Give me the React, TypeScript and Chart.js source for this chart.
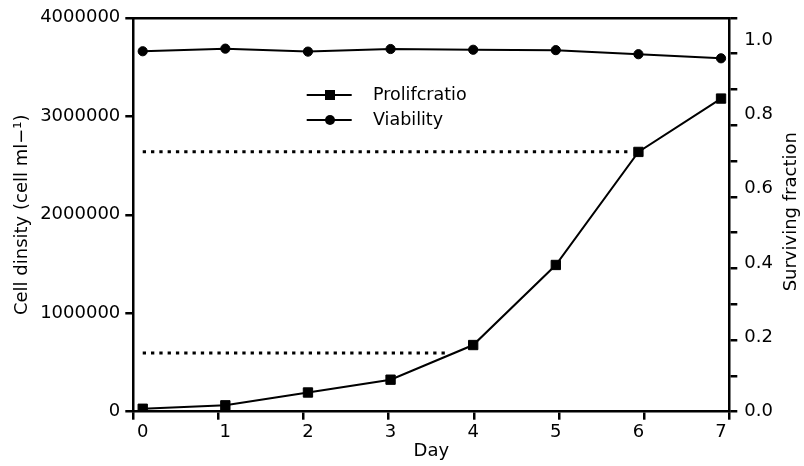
import React, { useEffect, useRef } from "react";
import { Chart, registerables } from "chart.js";

Chart.register(...registerables);

// ---- data ----
const days = [0, 1, 2, 3, 4, 5, 6, 7];
const proliferation = [30000, 65000, 195000, 325000, 677000, 1490000, 2638000, 3180000];
const viability = [0.97, 0.977, 0.969, 0.976, 0.974, 0.973, 0.962, 0.951];
const refLevels = [2640000, 595000];
const refStarts = [0, 0];
const refEnds = [5.9, 3.7];
const leftTicks = [0, 1000000, 2000000, 3000000, 4000000];
const rightTicks = [0, 0.2, 0.4, 0.6, 0.8, 1.0];
const rightMinorTicks = [0, 0.1, 0.2, 0.3, 0.4, 0.5, 0.6, 0.7, 0.8, 0.9, 1.0, 1.1];
const seriesNames = ["Prolifcratio", "Viability"];
const xTitle = "Day";
const yTitle = "Cell dinsity (cell ml\u2212\u00B9)";
const y2Title = "Surviving fraction";

const FONT = "'DejaVu Sans'";
const BLACK = "#000";

const legendPlugin = {
  id: "inlineLegend",
  afterDatasetsDraw(chart: any) {
    const ctx = chart.ctx;
    const items = chart.data.datasets.filter((d: any) => d.label);
    items.forEach((d: any, i: number) => {
      const y = 95 + i * 25;
      const x0 = 306.7;
      const x1 = 351.7;
      const cx = 330;
      ctx.save();
      ctx.strokeStyle = BLACK;
      ctx.fillStyle = BLACK;
      ctx.lineWidth = 2;
      ctx.beginPath();
      ctx.moveTo(x0, y);
      ctx.lineTo(x1, y);
      ctx.stroke();
      if (d.pointStyle === "rect") {
        ctx.fillRect(cx - 5, y - 5, 10, 10);
      } else {
        ctx.beginPath();
        ctx.arc(cx, y, 5, 0, Math.PI * 2);
        ctx.fill();
      }
      ctx.font = `17.5px ${FONT}`;
      ctx.textAlign = "left";
      ctx.textBaseline = "middle";
      ctx.fillText(d.label, 373, y);
      ctx.restore();
    });
  },
};

const rightTitlePlugin = {
  id: "rightTitle",
  afterDraw(chart: any) {
    const ctx = chart.ctx;
    const area = chart.chartArea;
    ctx.save();
    ctx.translate(chart.width - 12.3, (area.top + area.bottom) / 2 - 3);
    ctx.rotate(-Math.PI / 2);
    ctx.font = `18px ${FONT}`;
    ctx.fillStyle = BLACK;
    ctx.textAlign = "center";
    ctx.textBaseline = "middle";
    ctx.fillText(y2Title, 0, 0);
    ctx.restore();
  },
};

export default function App() {
  const ref = useRef<HTMLCanvasElement | null>(null);

  useEffect(() => {
    document.body.style.margin = "0";
    const canvas = ref.current;
    if (!canvas) return;

    const tickGrid = {
      display: true,
      drawOnChartArea: false,
      drawTicks: true,
      tickLength: 8,
      lineWidth: 2.5,
      color: BLACK,
    };
    const border = { display: true, width: 2.5, color: BLACK };
    const noGrid = { display: false, drawTicks: false, drawOnChartArea: false };
    const tickFont = { family: FONT, size: 18 };
    const titleFont = { family: FONT, size: 18 };

    const chart = new Chart(canvas, {
      type: "line",
      data: {
        datasets: [
          {
            label: seriesNames[0],
            data: days.map((d, i) => ({ x: d, y: proliferation[i] })),
            xAxisID: "x",
            yAxisID: "y",
            borderColor: BLACK,
            backgroundColor: BLACK,
            borderWidth: 2,
            pointStyle: "rect",
            pointRadius: 6.6,
            pointBorderWidth: 1,
            tension: 0,
          },
          {
            label: seriesNames[1],
            data: days.map((d, i) => ({ x: d, y: viability[i] })),
            xAxisID: "x",
            yAxisID: "yR",
            borderColor: BLACK,
            backgroundColor: BLACK,
            borderWidth: 2,
            pointStyle: "circle",
            pointRadius: 4.6,
            pointBorderWidth: 1,
            tension: 0,
          },
          ...refLevels.map((lvl, i) => ({
            label: "",
            data: [
              { x: refStarts[i], y: lvl },
              { x: refEnds[i], y: lvl },
            ],
            xAxisID: "x",
            yAxisID: "y",
            borderColor: BLACK,
            borderWidth: 3,
            borderDash: [3.3, 5],
            borderCapStyle: "butt",
            pointRadius: 0,
            tension: 0,
          })),
        ],
      },
      options: {
        responsive: false,
        animation: false,
        devicePixelRatio: 1,
        layout: { padding: { top: 13.3, left: 0, right: 0, bottom: 0 } },
        plugins: {
          legend: { display: false },
          tooltip: { enabled: false },
          title: { display: false },
        },
        scales: {
          x: {
            type: "linear",
            position: "bottom",
            weight: 1,
            min: -0.114,
            max: 7.1,
            grid: noGrid,
            border: { display: false },
            afterBuildTicks: (s: any) => {
              s.ticks = days.map((v) => ({ value: v }));
            },
            ticks: {
              font: tickFont,
              color: BLACK,
              padding: 1.5,
              maxRotation: 0,
              autoSkip: false,
              callback: (v: any) => String(v),
            },
            title: {
              display: true,
              text: xTitle,
              font: titleFont,
              color: BLACK,
              padding: { top: 0, bottom: 4 },
            },
            afterFit: (s: any) => {
              s.height = 46.3;
            },
          },
          xTicks: {
            type: "linear",
            position: "bottom",
            weight: 0,
            min: 0,
            max: 7,
            grid: tickGrid,
            border,
            afterBuildTicks: (s: any) => {
              s.ticks = days.map((v) => ({ value: v }));
            },
            ticks: { display: false },
            afterFit: (s: any) => {
              s.height = 8;
            },
          },
          xTop: {
            type: "linear",
            position: "top",
            min: 0,
            max: 7,
            grid: { display: false, drawTicks: false, lineWidth: 2.5, color: BLACK },
            border,
            ticks: { display: false },
            afterFit: (s: any) => {
              s.height = 0;
            },
          },
          y: {
            type: "linear",
            position: "left",
            min: 0,
            max: 4000000,
            grid: tickGrid,
            border,
            afterBuildTicks: (s: any) => {
              s.ticks = leftTicks.map((v) => ({ value: v }));
            },
            ticks: {
              font: tickFont,
              color: BLACK,
              padding: 5,
              callback: (v: any) => String(v),
            },
            title: {
              display: true,
              text: yTitle,
              font: titleFont,
              color: BLACK,
              padding: { top: 12, bottom: 0 },
            },
            afterFit: (s: any) => {
              s.width = 133.3;
            },
          },
          yTicksR: {
            type: "linear",
            position: "right",
            weight: 0,
            min: 0,
            max: 1.1,
            grid: tickGrid,
            border,
            afterBuildTicks: (s: any) => {
              s.ticks = rightMinorTicks.map((v) => ({ value: v }));
            },
            ticks: { display: false },
            afterFit: (s: any) => {
              s.width = 8;
            },
          },
          yR: {
            type: "linear",
            position: "right",
            weight: 1,
            min: 0,
            max: 1.06,
            grid: noGrid,
            border: { display: false },
            afterBuildTicks: (s: any) => {
              s.ticks = rightTicks.map((v) => ({ value: v }));
            },
            ticks: {
              font: tickFont,
              color: BLACK,
              padding: 7,
              callback: (v: any) => Number(v).toFixed(1),
            },
            afterFit: (s: any) => {
              s.width = 66.7;
            },
          },
        },
      } as any,
      plugins: [legendPlugin, rightTitlePlugin],
    });

    return () => chart.destroy();
  }, []);

  return (
    <div style={{ width: 804, height: 466, background: "#fff" }}>
      <canvas ref={ref} width={804} height={466} style={{ display: "block" }} />
    </div>
  );
}
